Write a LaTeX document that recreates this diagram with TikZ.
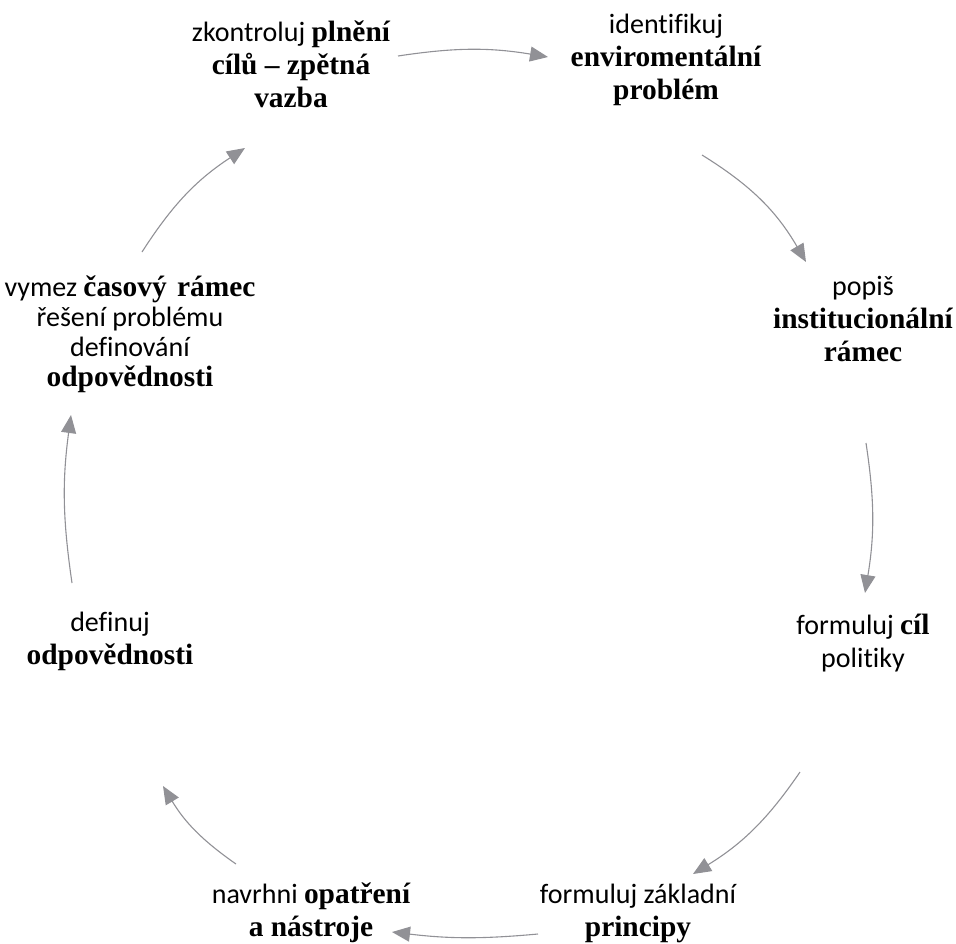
\documentclass[tikz,border=0pt]{standalone}
\usepackage{fontspec}
\setmainfont{Carlito}[Ligatures={NoCommon,NoRare}]
\newfontfamily\timesfont{Liberation Serif}[Scale=1.05]
\newcommand\zv[1]{{\timesfont\bfseries #1}}
\usetikzlibrary{arrows.meta}
\definecolor{argray}{RGB}{145,145,150}
\begin{document}
\begin{tikzpicture}[x=1pt,y=1pt,
  lbl/.style={align=center,inner sep=0pt,font=\fontsize{28}{33}\selectfont},
  cyc/.style={draw=argray,line width=1.1pt,-{Triangle[length=18pt,width=15pt]}}]
\useasboundingbox (0,0) rectangle (956,-943);
% text nodes
\node[lbl] (A) at (291,-64) {zkontroluj \zv{plnění}\\\zv{cílů – zpětná}\\\zv{vazba}};
\node[lbl] (B) at (666,-60) {identifikuj\\\zv{enviromentální}\\\zv{problém}};
\node[lbl] (C) at (863,-319) {popiš\\\zv{institucionální}\\\zv{rámec}};
\node[lbl] (D) at (863,-643) {formuluj \zv{cíl}\\politiky};
\node[lbl] (E) at (638,-913) {formuluj základní\\\zv{principy}};
\node[lbl] (F) at (311,-913) {navrhni \zv{opatření}\\\zv{a nástroje}};
\node[lbl] (G) at (110,-641) {definuj\\\zv{odpovědnosti}};
\node[lbl,font=\fontsize{28}{30}\selectfont] (H) at (130,-334) {vymez \zv{časový\hspace{3pt} rámec}\\řešení problému\\definování\\\zv{odpovědnosti}};
% arrow end points
\coordinate (a1s) at (398,-56);  \coordinate (a1e) at (548,-57);
\coordinate (a2s) at (702,-155); \coordinate (a2e) at (806,-262);
\coordinate (a3s) at (866,-443); \coordinate (a3e) at (865,-593);
\coordinate (a4s) at (800,-772); \coordinate (a4e) at (693,-874);
\coordinate (a5s) at (538,-934); \coordinate (a5e) at (392,-932);
\coordinate (a6s) at (236,-864); \coordinate (a6e) at (163,-786);
\coordinate (a7s) at (72,-583);  \coordinate (a7e) at (71,-415);
\coordinate (a8s) at (142,-252); \coordinate (a8e) at (245,-148);
% connectors
\draw[cyc] (a1s) to[bend left=9] (a1e);
\draw[cyc] (a2s) to[bend left=14] (a2e);
\draw[cyc] (a3s) to[bend left=9] (a3e);
\draw[cyc] (a4s) to[bend left=12] (a4e);
\draw[cyc] (a5s) to[bend left=6] (a5e);
\draw[cyc] (a6s) to[bend left=12] (a6e);
\draw[cyc] (a7s) to[bend left=8] (a7e);
\draw[cyc] (a8s) to[bend left=12] (a8e);
\end{tikzpicture}
\end{document}
